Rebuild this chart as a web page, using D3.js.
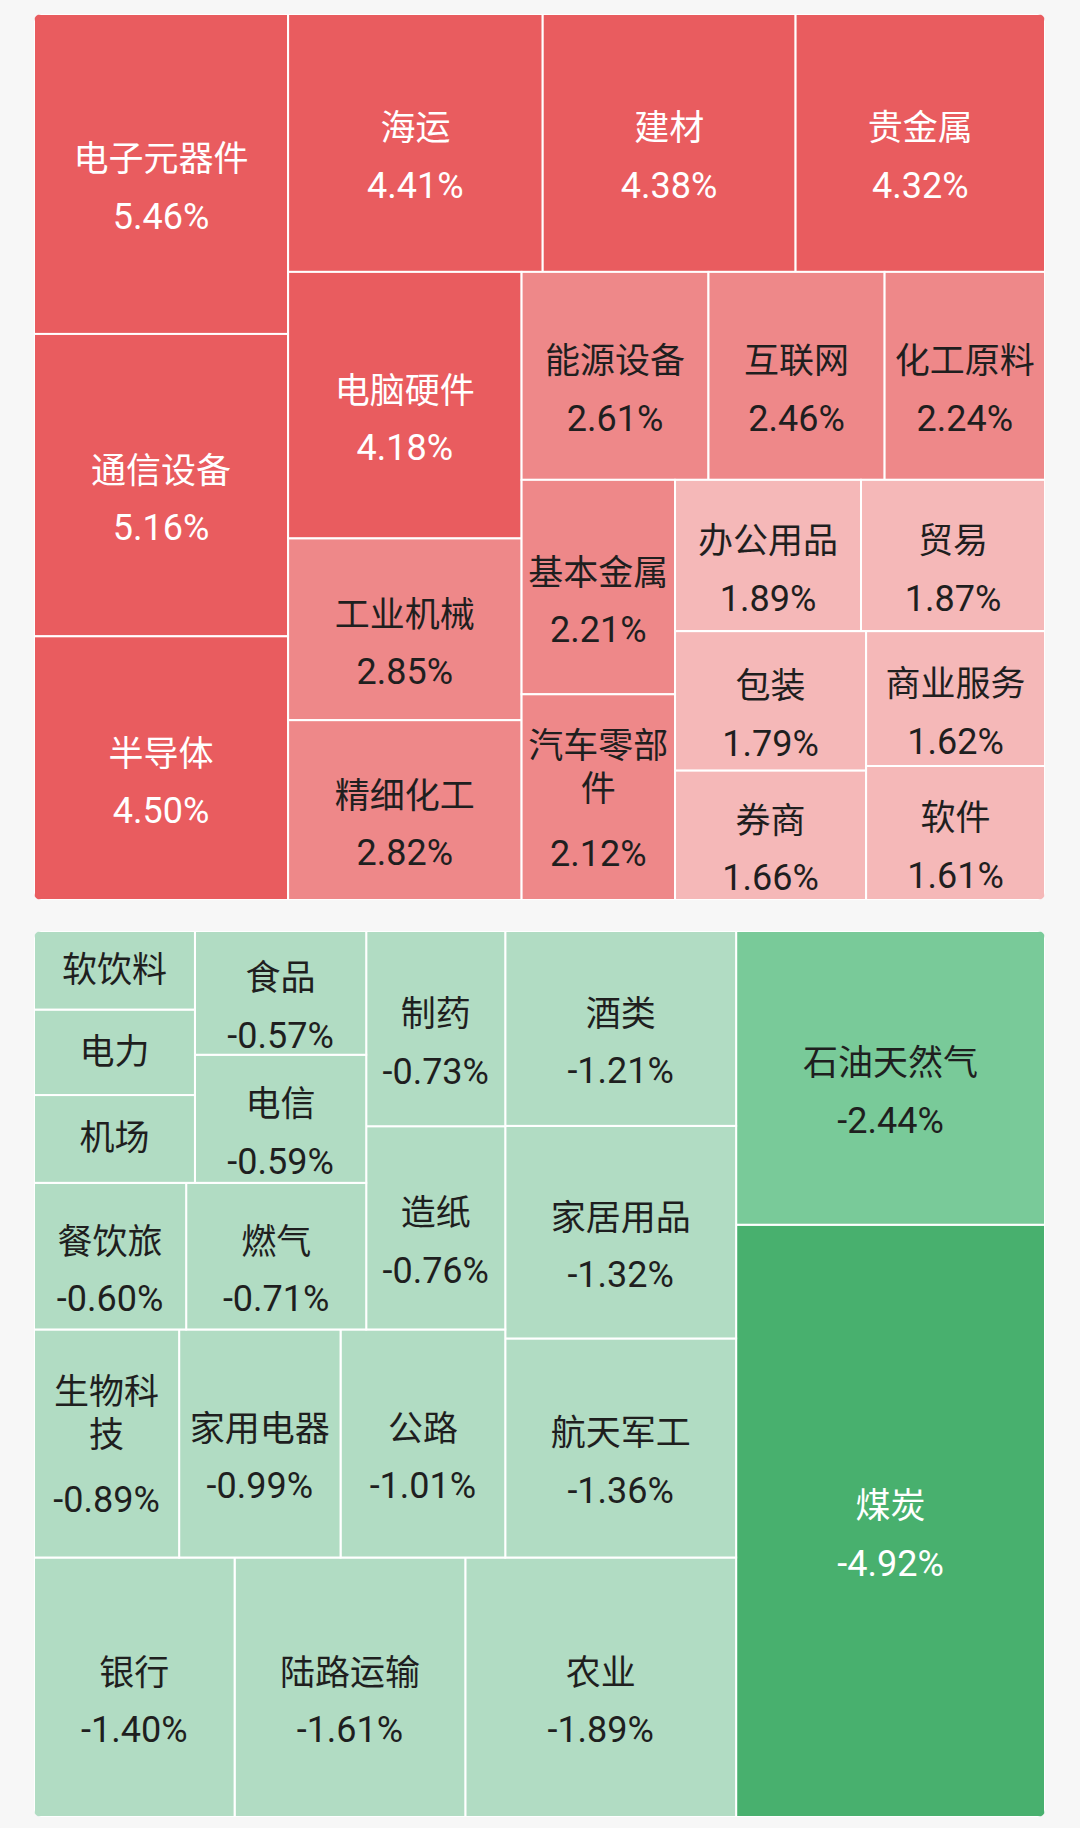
<!DOCTYPE html>
<html><head><meta charset="utf-8">
<script src="https://cdn.jsdelivr.net/npm/d3@7"></script>
<style>
html,body{margin:0;padding:0;background:#f7f7f7;}
svg{display:block;}
</style></head><body>
<svg id="chart" width="1080" height="1828"></svg>
<script>
const upNames = ['电子元器件','通信设备','半导体','海运','建材','贵金属','电脑硬件','工业机械','精细化工','能源设备','互联网','化工原料','基本金属','汽车零部件','办公用品','贸易','包装','券商','商业服务','软件'];
const upValues = [5.46,5.16,4.50,4.41,4.38,4.32,4.18,2.85,2.82,2.61,2.46,2.24,2.21,2.12,1.89,1.87,1.79,1.66,1.62,1.61];
const downNames = ['煤炭','石油天然气','农业','陆路运输','银行','航天军工','家居用品','酒类','公路','家用电器','生物科技','造纸','制药','燃气','餐饮旅','电信','食品','机场','电力','软饮料'];
const downValues = [-4.92,-2.44,-1.89,-1.61,-1.40,-1.36,-1.32,-1.21,-1.01,-0.99,-0.89,-0.76,-0.73,-0.71,-0.60,-0.59,-0.57,-0.38,-0.37,-0.34];

const W = 1080, H = 1828;
const svg = d3.select('#chart');
svg.append('rect').attr('width', W).attr('height', H).attr('fill', '#f7f7f7');
const defs = svg.append('defs');

const panels = [
  {id: 'up', names: upNames, values: upValues, x: 34, y: 14, w: 1011, h: 886, flip: false},
  {id: 'down', names: downNames, values: downValues, x: 34, y: 931, w: 1011, h: 886, flip: true}
];

function fillColor(v) {
  const a = Math.abs(v);
  if (v > 0) return a >= 4 ? '#e95c5f' : a >= 2 ? '#ee8889' : '#f5b8b8';
  return a >= 4 ? '#48b06e' : a >= 2 ? '#79ca99' : '#b1dcc3';
}
function textColor(v) { return Math.abs(v) >= 4 ? '#ffffff' : '#1f1f1f'; }

const FS = 35, VFS = 36, LH = 43;
const fontFam = "Roboto, 'Noto Sans CJK SC', sans-serif";

panels.forEach(p => {
  const data = p.names.map((n, i) => ({name: n, v: p.values[i]}));
  const root = d3.hierarchy({children: data})
    .sum(d => d.children ? 0 : Math.abs(d.v))
    .sort((a, b) => b.value - a.value);
  d3.treemap().size([p.w, p.h]).tile(d3.treemapSquarify.ratio(1.04))(root);

  defs.append('clipPath').attr('id', 'clip-' + p.id)
    .append('rect').attr('width', p.w).attr('height', p.h).attr('rx', 7).attr('ry', 7);

  const g = svg.append('g').attr('transform', `translate(${p.x},${p.y})`)
    .attr('clip-path', `url(#clip-${p.id})`);

  const leaves = root.leaves().map(l => {
    let x0 = l.x0, y0 = l.y0, x1 = l.x1, y1 = l.y1;
    if (p.flip) { [x0, x1] = [p.w - x1, p.w - x0]; [y0, y1] = [p.h - y1, p.h - y0]; }
    return {name: l.data.name, v: l.data.v, x0, y0, x1, y1};
  });

  g.selectAll('rect.cell').data(leaves).join('rect')
    .attr('class', 'cell')
    .attr('x', d => d.x0).attr('y', d => d.y0)
    .attr('width', d => d.x1 - d.x0).attr('height', d => d.y1 - d.y0)
    .attr('fill', d => fillColor(d.v))
    .attr('stroke', '#ffffff').attr('stroke-width', 2);

  leaves.forEach(d => {
    const cw = d.x1 - d.x0, ch = d.y1 - d.y0;
    const cx = (d.x0 + d.x1) / 2, cy = (d.y0 + d.y1) / 2;
    const chars = Array.from(d.name);
    const per = Math.max(1, Math.floor((cw - 12) / FS));
    const lines = [];
    for (let i = 0; i < chars.length; i += per) lines.push(chars.slice(i, i + per).join(''));
    const n = lines.length;
    const showVal = ch > 100;
    const col = textColor(d.v);
    let first, valY;
    if (showVal) {
      first = cy - 14 - (n - 1) * 37;
      valY = first + (n - 1) * LH + 57 + (n - 1) * 8;
    } else {
      first = cy - (n - 1) * LH / 2;
    }
    lines.forEach((ln, i) => {
      g.append('text')
        .attr('x', cx).attr('y', first + i * LH)
        .attr('text-anchor', 'middle').attr('dominant-baseline', 'central')
        .attr('font-family', fontFam).attr('font-size', FS)
        .attr('fill', col).text(ln);
    });
    if (showVal) {
      g.append('text')
        .attr('x', cx).attr('y', valY)
        .attr('text-anchor', 'middle').attr('dominant-baseline', 'central')
        .attr('font-family', fontFam).attr('font-size', VFS)
        .attr('fill', col).text(d.v.toFixed(2) + '%');
    }
  });
});
</script>
</body></html>
